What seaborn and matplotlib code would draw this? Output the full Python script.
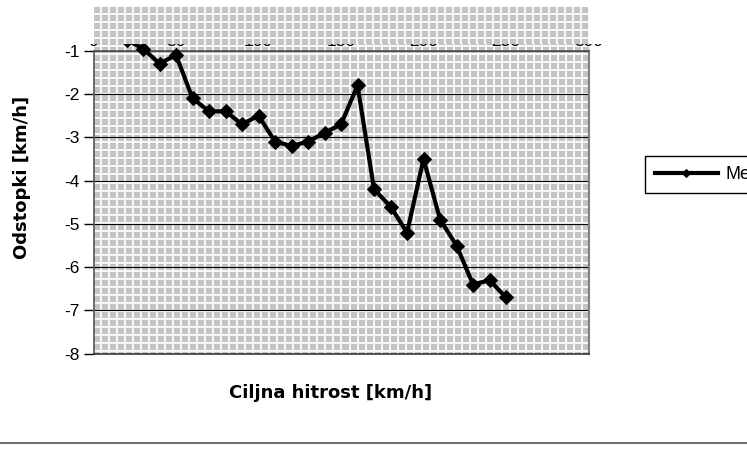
import numpy as np
import pandas as pd
import seaborn as sns
import matplotlib.pyplot as plt
from matplotlib.lines import Line2D

# data
speed = [20, 30, 40, 50, 60, 70, 80, 90, 100, 110, 120, 130,
         140, 150, 160, 170, 180, 190, 200, 210, 220, 230, 240, 250]
deviation = [-0.75, -0.95, -1.3, -1.1, -2.1, -2.4, -2.4, -2.7, -2.5, -3.1, -3.2, -3.1,
             -2.9, -2.7, -1.8, -4.2, -4.6, -5.2, -3.5, -4.9, -5.5, -6.4, -6.3, -6.7]
x_ticks = [0, 50, 100, 150, 200, 250, 300]
y_ticks = [-8, -7, -6, -5, -4, -3, -2, -1]
series_label = 'Meritve'

plt.rcParams['font.family'] = ['Liberation Sans', 'DejaVu Sans']
plt.rcParams['axes.unicode_minus'] = False

df = pd.DataFrame({'speed': speed, 'deviation': deviation})

fig = plt.figure(figsize=(7.47, 4.5), dpi=100)
ax = fig.add_axes([0.1252, 0.2138, 0.6627, 0.7698])

# Excel style hatched plot area (grey squares on white)
H, W = 346, 495
yy, xx = np.mgrid[0:H, 0:W]
mask = ((xx % 8) < 6) & ((yy % 8) < 6)
img = np.where(mask[..., None], 0.77, 0.97) * np.ones(3)
ax.imshow(img, extent=(0, 300, -8, 0), aspect='auto', interpolation='nearest', zorder=0)

sns.lineplot(data=df, x='speed', y='deviation', marker='D', markersize=7.5,
             color='black', markeredgecolor='black', linewidth=3,
             label=series_label, ax=ax, zorder=5)

ax.set_xlim(0, 300)
ax.set_ylim(-8, 0)
ax.set_yticks(y_ticks)
ax.set_xticks(x_ticks)
ax.xaxis.tick_top()
ax.tick_params(axis='x', length=0, pad=1, labelsize=12.5)
ax.tick_params(axis='y', direction='out', length=7, width=1, color='black',
               pad=3, labelsize=12.5)
ax.grid(axis='y', color='black', linewidth=0.8)
ax.grid(axis='x', visible=False)

ax.spines['top'].set_position(('data', -1))
ax.spines['top'].set_color('#555555')
ax.spines['top'].set_linewidth(1.2)
ax.spines['left'].set_bounds(-8, -1)
ax.spines['left'].set_color('#555555')
ax.spines['left'].set_linewidth(1.2)
ax.spines['right'].set_bounds(-8, -1)
ax.spines['right'].set_color('#808080')
ax.spines['right'].set_linewidth(1.5)
ax.spines['bottom'].set_color('#333333')
ax.spines['bottom'].set_linewidth(1.2)

label_font = {'family': ['DejaVu Sans'], 'size': 13, 'weight': 'bold'}
ax.set_ylabel('Odstopki [km/h]', fontdict=label_font)
ax.yaxis.set_label_coords(-0.126, 0.51)
ax.xaxis.set_label_position('bottom')
ax.set_xlabel('Ciljna hitrost [km/h]', fontdict=label_font)
ax.xaxis.set_label_coords(0.478, -0.088)

# top strip: the chart area is painted over the tick labels and the line
top_rows = 37
ov = fig.add_axes([85 / 747, 1 - 44 / 450, (615 - 85) / 747, top_rows / 450])
ov.set_facecolor('white')
ov.imshow(img[:top_rows], extent=(93.5, 588.5, 44, 7), aspect='auto',
          interpolation='nearest')
ov.set_xlim(85, 615)
ov.set_ylim(44, 7)
ov.set_xticks([])
ov.set_yticks([])
for s in ov.spines.values():
    s.set_visible(False)

handles, labels = ax.get_legend_handles_labels()
ax.get_legend().remove()
leg = fig.legend(handles, labels, loc='center left', bbox_to_anchor=(0.851, 0.612),
                 frameon=True, fancybox=False, edgecolor='black', framealpha=1,
                 fontsize=13, handlelength=3.5, handletextpad=0.4,
                 borderpad=0.55, numpoints=1)
leg.get_frame().set_linewidth(1)
for line in leg.get_lines():
    line.set_markersize(4)

fig.add_artist(Line2D([0, 1], [0.0155, 0.0155], transform=fig.transFigure,
                      color='#707070', linewidth=1.5))

fig.savefig('out.png', dpi=100)
